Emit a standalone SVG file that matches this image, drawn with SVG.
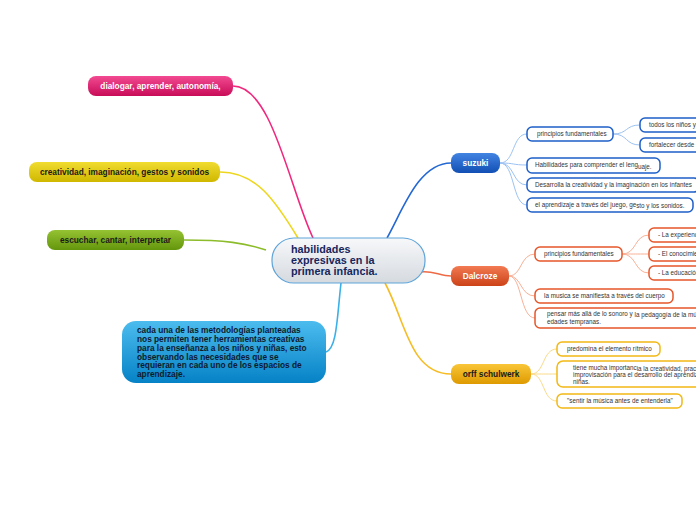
<svg xmlns="http://www.w3.org/2000/svg" width="696" height="520" viewBox="0 0 696 520">
<defs>
<linearGradient id="gCenter" x1="0" y1="0" x2="0" y2="1"><stop offset="0" stop-color="#f7f8fa"/><stop offset="1" stop-color="#d5dadf"/></linearGradient>
<linearGradient id="gPink" x1="0" y1="0" x2="0" y2="1"><stop offset="0" stop-color="#f24a92"/><stop offset="1" stop-color="#c80c58"/></linearGradient>
<linearGradient id="gYellow" x1="0" y1="0" x2="0" y2="1"><stop offset="0" stop-color="#f0dc30"/><stop offset="1" stop-color="#d0b800"/></linearGradient>
<linearGradient id="gGreen" x1="0" y1="0" x2="0" y2="1"><stop offset="0" stop-color="#94c232"/><stop offset="1" stop-color="#64960c"/></linearGradient>
<linearGradient id="gBlue" x1="0" y1="0" x2="0" y2="1"><stop offset="0" stop-color="#4cbcee"/><stop offset="1" stop-color="#0582c6"/></linearGradient>
<linearGradient id="gSuzuki" x1="0" y1="0" x2="0" y2="1"><stop offset="0" stop-color="#4284e2"/><stop offset="1" stop-color="#124fb4"/></linearGradient>
<linearGradient id="gDal" x1="0" y1="0" x2="0" y2="1"><stop offset="0" stop-color="#f27a52"/><stop offset="1" stop-color="#cc4218"/></linearGradient>
<linearGradient id="gOrff" x1="0" y1="0" x2="0" y2="1"><stop offset="0" stop-color="#f9c638"/><stop offset="1" stop-color="#de9a00"/></linearGradient>
<style>
.main{font-family:"Liberation Sans",Arial,sans-serif;font-weight:bold;font-size:8.3px}
.center{font-family:"Liberation Sans",Arial,sans-serif;font-weight:bold;font-size:10.8px;fill:#17265c}
.sub{font-family:"Liberation Sans",Arial,sans-serif;font-size:6.3px;fill:#333}
.child{fill:#fff;stroke-width:1.5}
.cs{stroke:#1e5fc9}
.cd{stroke:#e5562a}
.co{stroke:#f2b814}
.con{fill:none}
</style>
</defs>
<rect width="696" height="520" fill="#fff"/>

<g id="connectors" class="con">
<path d="M233,86 C272,86 290,190 313,238" stroke="#f0287e" stroke-width="1.6"/>
<path d="M220,172 C256,172 275,200 298,238" stroke="#eed61c" stroke-width="1.6"/>
<path d="M184,240 C225,240 245,243 266,250" stroke="#8cbc2a" stroke-width="1.6"/>
<path d="M326,352 C337,348 337,318 341,283" stroke="#3ab0e8" stroke-width="1.6"/>
<path d="M387,238 C402,212 418,163 451,163" stroke="#2468d4" stroke-width="1.6"/>
<path d="M420,272 C432,270 440,276 451,276" stroke="#ee6a44" stroke-width="1.6"/>
<path d="M385,283 C405,320 410,374 451,374" stroke="#f6bc24" stroke-width="1.6"/>
<g stroke="#9cc2f2" stroke-width="1">
<path d="M500,163 C515,163 512,134 527,134"/>
<path d="M500,163 C515,163 512,165 527,165"/>
<path d="M500,163 C515,163 512,185 527,185"/>
<path d="M500,163 C515,163 512,205 527,205"/>
<path d="M613,134 C628,134 625,125 640,125"/>
<path d="M613,134 C628,134 625,145 640,145"/>
</g>
<g stroke="#f8b096" stroke-width="1">
<path d="M509,276 C522,276 520,254 535,254"/>
<path d="M509,276 C522,276 520,296 535,296"/>
<path d="M509,276 C522,276 520,318 535,318"/>
<path d="M622,254 C637,254 634,235 649,235"/>
<path d="M622,254 C637,254 634,254 649,254"/>
<path d="M622,254 C637,254 634,273 649,273"/>
</g>
<g stroke="#f9da88" stroke-width="1">
<path d="M531,374 C545,374 542,349 557,349"/>
<path d="M531,374 C545,374 542,374 557,374"/>
<path d="M531,374 C545,374 542,401 557,401"/>
</g>
</g>

<g id="center">
<rect x="272" y="238" width="153" height="45" rx="22" fill="url(#gCenter)" stroke="#5ea4da" stroke-width="1.2"/>
<text class="center" x="291" y="253">habilidades</text>
<text class="center" x="291" y="264">expresivas en la</text>
<text class="center" x="291" y="275">primera infancia.</text>
</g>

<g id="n-dialogar">
<rect x="88" y="76" width="145" height="20" rx="8" fill="url(#gPink)"/>
<text class="main" x="160.5" y="89" fill="#fff" text-anchor="middle">dialogar, aprender, autonomía,</text>
</g>
<g id="n-creatividad">
<rect x="29" y="162" width="191" height="20" rx="8" fill="url(#gYellow)"/>
<text class="main" x="124.5" y="175" fill="#1a1a1a" text-anchor="middle">creatividad, imaginación, gestos y sonidos</text>
</g>
<g id="n-escuchar">
<rect x="47" y="230" width="137" height="20" rx="8" fill="url(#gGreen)"/>
<text class="main" x="115.5" y="243" fill="#1a1a1a" text-anchor="middle">escuchar, cantar, interpretar</text>
</g>
<g id="n-cada">
<rect x="122" y="321" width="204" height="62" rx="14" fill="url(#gBlue)"/>
<g class="main" fill="#0e1a2e">
<text x="137" y="333">cada una de las metodologías planteadas</text>
<text x="137" y="342">nos permiten tener herramientas creativas</text>
<text x="137" y="351">para la enseñanza a los niños y niñas, esto</text>
<text x="137" y="359.5">observando las necesidades que se</text>
<text x="137" y="368">requieran en cada uno de los espacios de</text>
<text x="137" y="376.5">aprendizaje.</text>
</g>
</g>

<g id="n-suzuki">
<rect x="451" y="153" width="49" height="20" rx="8" fill="url(#gSuzuki)"/>
<text class="main" x="475.5" y="166" fill="#fff" text-anchor="middle">suzuki</text>
</g>
<g id="s-principios">
<rect class="child cs" x="527" y="127" width="86" height="14" rx="5"/>
<text class="sub" x="537" y="136">principios fundamentales</text>
</g>
<g id="s-todos">
<rect class="child cs" x="640" y="118" width="70" height="14" rx="5"/>
<text class="sub" x="649" y="127">todos los niños y</text>
</g>
<g id="s-fortalecer">
<rect class="child cs" x="640" y="138" width="70" height="14" rx="5"/>
<text class="sub" x="649" y="147">fortalecer desde</text>
</g>
<g id="s-habilidades">
<rect class="child cs" x="527" y="158" width="133" height="15" rx="5"/>
<text class="sub" x="535" y="167">Habilidades para comprender el leng<tspan dy="1.5">uaje.</tspan></text>
</g>
<g id="s-desarrolla">
<rect class="child cs" x="527" y="178" width="172" height="14" rx="5"/>
<text class="sub" x="535" y="187">Desarrolla la creatividad y la imaginación en los infantes</text>
</g>
<g id="s-aprendizaje">
<rect class="child cs" x="527" y="198" width="166" height="14" rx="5"/>
<text class="sub" x="535" y="206.5">el aprendizaje a través del juego, ge<tspan dy="1.5">sto y los sonidos.</tspan></text>
</g>

<g id="n-dalcroze">
<rect x="451" y="266" width="58" height="20" rx="8" fill="url(#gDal)"/>
<text class="main" x="480" y="279" fill="#fff" text-anchor="middle">Dalcroze</text>
</g>
<g id="d-principios">
<rect class="child cd" x="535" y="247" width="87" height="14" rx="5"/>
<text class="sub" x="544" y="256">principios fundamentales</text>
</g>
<g id="d-exp">
<rect class="child cd" x="649" y="228" width="60" height="14" rx="5"/>
<text class="sub" x="658" y="237">- La experiencia</text>
</g>
<g id="d-con">
<rect class="child cd" x="649" y="247" width="60" height="14" rx="5"/>
<text class="sub" x="658" y="256">- El conocimiento</text>
</g>
<g id="d-edu">
<rect class="child cd" x="649" y="266" width="60" height="14" rx="5"/>
<text class="sub" x="658" y="275">- La educación</text>
</g>
<g id="d-musica">
<rect class="child cd" x="535" y="289" width="138" height="14" rx="5"/>
<text class="sub" x="544" y="298">la musica se manifiesta a través del cuerpo</text>
</g>
<g id="d-pensar">
<rect class="child cd" x="535" y="308" width="175" height="20" rx="5"/>
<text class="sub" x="547" y="316">pensar más allá de lo sonoro y <tspan dy="0.8">la pedagogía de la música en las</tspan></text>
<text class="sub" x="547" y="324">edades tempranas.</text>
</g>

<g id="n-orff">
<rect x="451" y="364" width="80" height="20" rx="8" fill="url(#gOrff)"/>
<text class="main" x="491" y="377" fill="#1a1a1a" text-anchor="middle">orff schulwerk</text>
</g>
<g id="o-predomina">
<rect class="child co" x="557" y="342" width="103" height="14" rx="5"/>
<text class="sub" x="567" y="351">predomina el elemento rítmico</text>
</g>
<g id="o-tiene">
<rect class="child co" x="557" y="361" width="160" height="26" rx="6"/>
<text class="sub" x="573" y="369.5">tiene mucha importanc<tspan dy="1.2">ia la creatividad, practica e</tspan></text>
<text class="sub" x="573" y="377">improvisación para el desarrollo del aprendizaje de niños y</text>
<text class="sub" x="573" y="383.5">niñas.</text>
</g>
<g id="o-sentir">
<rect class="child co" x="557" y="394" width="125" height="14" rx="5"/>
<text class="sub" x="567" y="403">"sentir la música antes de entenderla"</text>
</g>
</svg>
